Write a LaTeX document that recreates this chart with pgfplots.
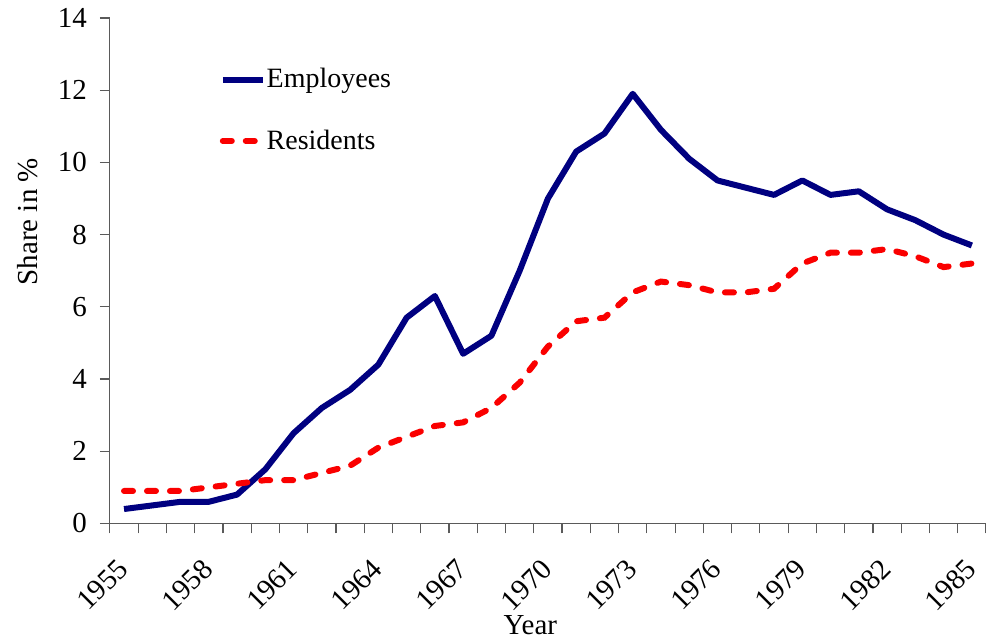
\documentclass[border=0pt]{standalone}
\usepackage{pgfplots}
\pgfplotsset{compat=1.18}
\usepackage{fontspec}
\setmainfont{Liberation Serif}
\definecolor{empblue}{RGB}{0,0,128}
\definecolor{resred}{RGB}{250,0,0}
\definecolor{axgray}{RGB}{90,90,90}
\begin{document}
\begin{tikzpicture}
\begin{axis}[
    scale only axis,
    width=438.5pt, height=253pt,
    xmin=1954.5, xmax=1985.5,
    ymin=0, ymax=14,
    axis x line*=bottom,
    axis y line*=left,
    axis line style={axgray, line width=0.6pt, -},
    every tick/.style={axgray, line width=0.6pt},
    tick align=outside,
    xtick={1955,1958,...,1985},
    major x tick style={draw=none},
    minor xtick={1954.5,1955.5,...,1985.5},
    minor tick length=5pt,
    ytick={0,2,...,14},
    major tick length=5pt,
    /pgf/number format/assume math mode=true,
    /pgf/number format/1000 sep={},
    tick label style={font=\fontsize{14.5}{16}\selectfont},
    xticklabel style={xshift=-4pt, yshift=-7pt, rotate=45, anchor=north east},
    yticklabel style={xshift=-3pt},
    label style={font=\fontsize{14.5}{16}\selectfont},
    xlabel={Year},
    ylabel={Share in \%},
    xlabel style={at={(ticklabel cs:0.48)}, anchor=near ticklabel, yshift=6.5pt},
    ylabel style={at={(ticklabel cs:0.597)}, anchor=near ticklabel, yshift=3pt},
    legend style={draw=none, fill=none, at={(axis description cs:0.125,0.905)},
        anchor=north west, inner sep=0pt,
        font=\fontsize{14}{16}\selectfont,
        nodes={inner xsep=0.5pt, inner ysep=1pt},
        row sep=17.5pt},
    legend cell align=left,
    legend image code/.code={\draw[#1] (0pt,0pt) -- (20pt,0pt);},
]
\addplot[empblue, line width=3pt, line join=round] coordinates {
(1955,0.4) (1956,0.5) (1957,0.6) (1958,0.6) (1959,0.8) (1960,1.5)
(1961,2.5) (1962,3.2) (1963,3.7) (1964,4.4) (1965,5.7) (1966,6.3)
(1967,4.7) (1968,5.2) (1969,7.0) (1970,9.0) (1971,10.3) (1972,10.8)
(1973,11.9) (1974,10.9) (1975,10.1) (1976,9.5) (1977,9.3) (1978,9.1)
(1979,9.5) (1980,9.1) (1981,9.2) (1982,8.7) (1983,8.4) (1984,8.0)
(1985,7.7)
};
\addlegendentry{Employees}
\addplot[resred, line width=3pt, line cap=round, dash pattern=on 4.5pt off 7pt] coordinates {
(1955,0.9) (1956,0.9) (1957,0.9) (1958,1.0) (1959,1.1) (1960,1.2)
(1961,1.2) (1962,1.4) (1963,1.6) (1964,2.1) (1965,2.4) (1966,2.7)
(1967,2.8) (1968,3.2) (1969,3.9) (1970,4.9) (1971,5.6) (1972,5.7)
(1973,6.4) (1974,6.7) (1975,6.6) (1976,6.4) (1977,6.4) (1978,6.5)
(1979,7.2) (1980,7.5) (1981,7.5) (1982,7.6) (1983,7.4) (1984,7.1)
(1985,7.2)
};
\addlegendentry{Residents}
\end{axis}
\pgfresetboundingbox
\path (-55pt,-57.5pt) rectangle (438.5pt,262pt);
\end{tikzpicture}
\end{document}
